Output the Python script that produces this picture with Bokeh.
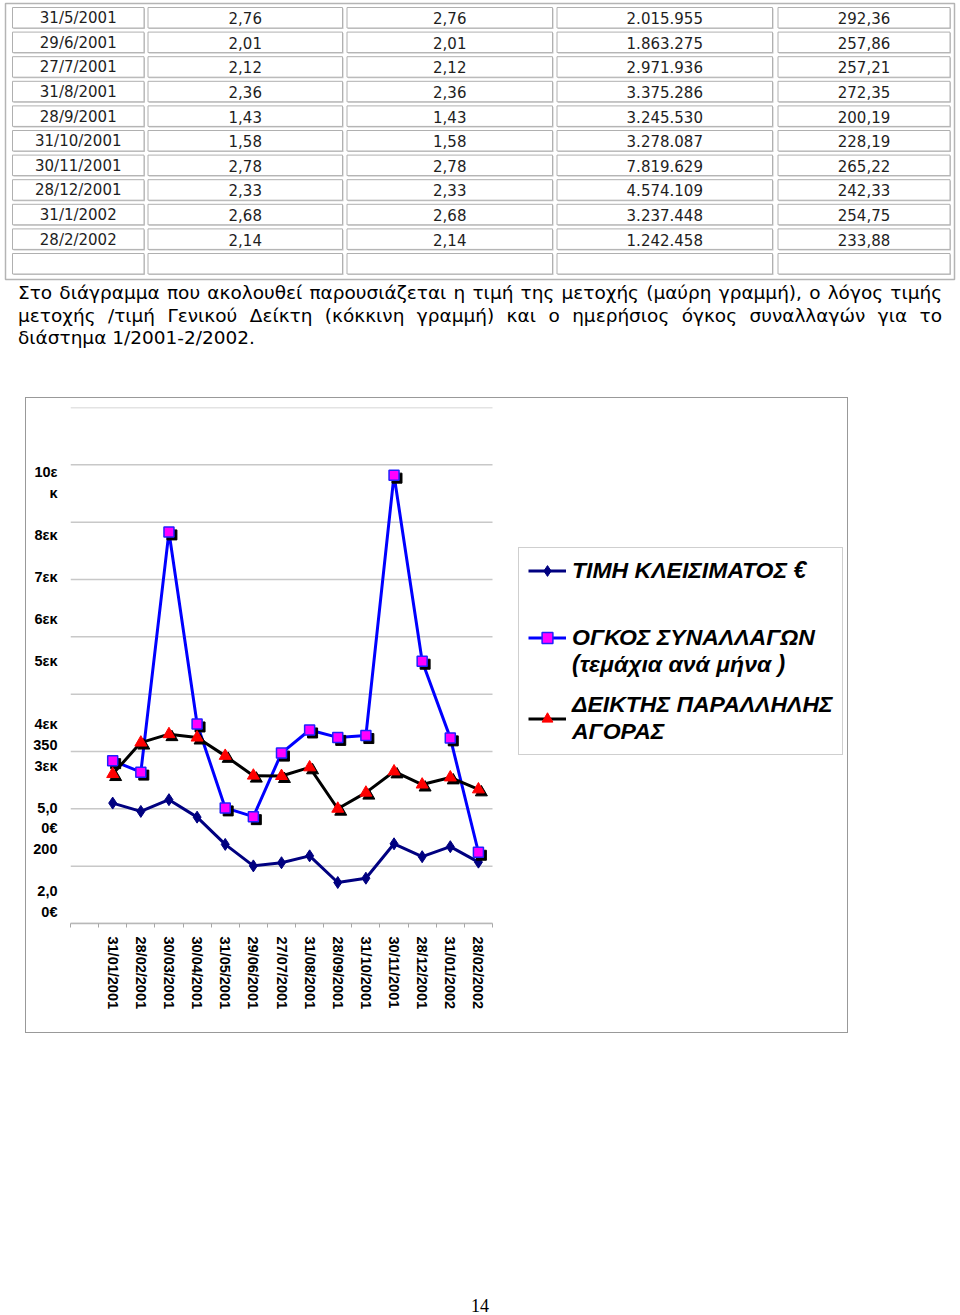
import math
from bokeh.plotting import figure
from bokeh.models import (Range1d, FixedTicker, LinearAxis, Legend, LegendItem,
                          Div, Spacer, ColumnDataSource)
from bokeh.layouts import column, row
from bokeh.transform import dodge
from bokeh.embed import file_html
from bokeh.resources import INLINE
from bokeh.core.properties import value

# ---------------- data: table (continuation from previous page) ----------------
tbl_dates = ["31/5/2001", "29/6/2001", "27/7/2001", "31/8/2001", "28/9/2001",
             "31/10/2001", "30/11/2001", "28/12/2001", "31/1/2002", "28/2/2002"]
tbl_price = ["2,76", "2,01", "2,12", "2,36", "1,43", "1,58", "2,78", "2,33", "2,68", "2,14"]
tbl_price_adj = ["2,76", "2,01", "2,12", "2,36", "1,43", "1,58", "2,78", "2,33", "2,68", "2,14"]
tbl_volume = ["2.015.955", "1.863.275", "2.971.936", "3.375.286", "3.245.530",
              "3.278.087", "7.819.629", "4.574.109", "3.237.448", "1.242.458"]
tbl_index = ["292,36", "257,86", "257,21", "272,35", "200,19",
             "228,19", "265,22", "242,33", "254,75", "233,88"]

para_lines = [
    "Στο διάγραμμα που ακολουθεί παρουσιάζεται η τιμή της μετοχής (μαύρη γραμμή), ο λόγος τιμής",
    "μετοχής /τιμή Γενικού Δείκτη (κόκκινη γραμμή) και ο ημερήσιος όγκος συναλλαγών για το",
    "διάστημα 1/2001-2/2002.",
]

# ---------------- data: chart ----------------
dates = ["31/01/2001", "28/02/2001", "30/03/2001", "30/04/2001", "31/05/2001", "29/06/2001",
         "27/07/2001", "31/08/2001", "28/09/2001", "31/10/2001", "30/11/2001", "28/12/2001",
         "31/01/2002", "28/02/2002"]
price = [4.20, 3.91, 4.32, 3.71, 2.76, 2.01, 2.12, 2.36, 1.43, 1.58, 2.78, 2.33, 2.68, 2.14]
volume = [2840000, 2640000, 6830000, 3480000, 2015955, 1863275, 2971936, 3375286, 3245530,
          3278087, 7819629, 4574109, 3237448, 1242458]
index_vals = [260.6, 315.5, 330.2, 324.3, 292.36, 257.86, 257.21, 272.35, 200.19, 228.19,
              265.22, 242.33, 254.75, 233.88]
volume_grid = [0, 1e6, 2e6, 3e6, 4e6, 5e6, 6e6, 7e6, 8e6, 9e6]
# left-hand axis texts, one per text line (blank = empty line)
y_tick_lines = ["10ε", "κ", "", "8εκ", "", "7εκ", "", "6εκ", "", "5εκ", "", "",
                "4εκ", "350", "3εκ", "", "5,0", "0€", "200", "", "2,0", "0€"]
legend_labels = ["ΤΙΜΗ ΚΛΕΙΣΙΜΑΤΟΣ €",
                 "\u00a0\nΟΓΚΟΣ ΣΥΝΑΛΛΑΓΩΝ\n(τεμάχια ανά μήνα )",
                 "ΔΕΙΚΤΗΣ ΠΑΡΑΛΛΗΛΗΣ\nΑΓΟΡΑΣ"]
page_number = "14"

# ================= table figure =================
TH = 282
tf = figure(width=960, height=TH, x_range=Range1d(0, 960), y_range=Range1d(TH, 0),
            output_backend="svg", toolbar_location=None, min_border=0,
            x_axis_location=None, y_axis_location=None)
tf.grid.visible = False
tf.outline_line_color = None

col_edges = [(12, 143.5), (147.5, 342), (346.5, 552), (556.5, 772), (777.5, 949.5)]
row_top0, row_pitch, row_h = 7.0, 24.6, 20.5
n_rows = len(tbl_dates) + 1

tf.quad(left=[5], right=[954], top=[3], bottom=[279], fill_color=None,
        line_color="#b4b4b4", line_width=1.5)
ql, qr, qt, qb = [], [], [], []
for r in range(n_rows):
    for (a, b) in col_edges:
        ql.append(a); qr.append(b)
        qt.append(row_top0 + r * row_pitch); qb.append(row_top0 + r * row_pitch + row_h)
tf.quad(left=[v + 1 for v in ql], right=[v + 1 for v in qr], top=[v + 1 for v in qt],
        bottom=[v + 1 for v in qb], fill_color="#c8c8c8", line_color=None)
tf.quad(left=ql, right=qr, top=qt, bottom=qb, fill_color="white",
        line_color="#b0b0b0", line_width=1)

cols = [tbl_dates, tbl_price, tbl_price_adj, tbl_volume, tbl_index]
tx, ty, tt = [], [], []
for ci, colvals in enumerate(cols):
    a, b = col_edges[ci]
    for r, s in enumerate(colvals):
        tx.append((a + b) / 2)
        ty.append(row_top0 + r * row_pitch + row_h / 2 + 0.5)
        tt.append(s)
tf.text(x=tx, y=ty, text=tt, text_align="center", text_baseline="middle",
        text_font=value("DejaVu Sans"), text_font_size="15px", text_color="#1e1e1e")

# ================= paragraph =================
line_divs = []
for i, ln in enumerate(para_lines):
    last = i == len(para_lines) - 1
    align = "text-align:left;" if last else "text-align:justify;text-align-last:justify;"
    line_divs.append('<div style="%swhite-space:nowrap;">%s</div>' % (align, ln))
para = Div(text='<div style="font-family:\'DejaVu Sans\';font-size:18.5px;line-height:22.5px;'
                'color:#000;width:924px;">' + "".join(line_divs) + "</div>",
           width=924, height=115, margin=(0, 0, 0, 0))

# ================= chart =================
xs = list(range(1, len(dates) + 1))
src = ColumnDataSource(dict(x=xs, price=price, vol=volume, idx=index_vals))

W, H = 823, 636
BL, BR, BT, BB = 45, 4, 10, 110
n_cat = len(dates) + 1                   # first category slot is empty
cat_px = 422.0 / n_cat                   # width of one category slot in pixels
frame_w = W - BL - BR
x_lo = -0.5
x_hi = x_lo + frame_w / cat_px           # frame extends right to hold the legend
VMAX = volume_grid[-1]

p = figure(width=W, height=H, x_range=Range1d(x_lo, x_hi), y_range=Range1d(0, VMAX),
           output_backend="svg", toolbar_location=None,
           x_axis_location=None, y_axis_location=None,
           min_border_left=BL, min_border_right=BR, min_border_top=BT, min_border_bottom=BB)
p.outline_line_color = None
p.grid.visible = False
p.border_fill_alpha = 0
p.extra_y_ranges = {"price": Range1d(0, 18), "idx": Range1d(0, 900),
                    "lines": Range1d(21.53, -3.07)}
p.styles = {"outline": "1px solid #999999", "outline-offset": "-1px"}

cat_end = x_lo + n_cat
p.segment(x0=[x_lo] * len(volume_grid), x1=[cat_end] * len(volume_grid),
          y0=volume_grid, y1=volume_grid, line_color="#c8c8c8", line_width=1.5)

xax = LinearAxis(ticker=FixedTicker(ticks=xs, minor_ticks=[x_lo + i for i in range(n_cat + 1)]),
                 bounds=(x_lo, cat_end),
                 major_label_overrides={i: d for i, d in zip(xs, dates)},
                 major_label_orientation=-math.pi / 2,
                 major_tick_out=0, major_tick_in=0, minor_tick_out=4, minor_tick_in=0,
                 minor_tick_line_color="#a8a8a8", axis_line_color="#b8b8b8", axis_line_width=1.5,
                 major_label_standoff=9, major_label_text_font="Liberation Sans",
                 major_label_text_font_style="bold", major_label_text_font_size="14.5px",
                 major_label_text_color="black")
p.add_layout(xax, "below")

ticks_idx = [i for i, t in enumerate(y_tick_lines) if t]
yax = LinearAxis(y_range_name="lines", ticker=FixedTicker(ticks=ticks_idx),
                 major_label_overrides={i: y_tick_lines[i] for i in ticks_idx},
                 axis_line_color=None, major_tick_line_color=None, minor_tick_line_color=None,
                 major_tick_out=0, major_tick_in=0, major_label_standoff=13,
                 major_label_text_font="Liberation Sans", major_label_text_font_style="bold",
                 major_label_text_font_size="14.5px", major_label_text_color="black")
p.add_layout(yax, "left")

SX = 0.105          # shadow offset (~3px) in category units
SV = 52000          # shadow offset in volume units
SI = 5.2            # shadow offset in index units

pl = p.line("x", "price", source=src, y_range_name="price", line_color="#000080", line_width=3)
pm = p.scatter("x", "price", source=src, y_range_name="price", marker="diamond", size=12,
               fill_color="#000080", line_color="#000080")

vl = p.line("x", "vol", source=src, line_color="#0000ff", line_width=3)
p.scatter(x=dodge("x", SX), y=dodge("vol", -SV), source=src, marker="square", size=10,
          fill_color="black", line_color="black")
vm = p.scatter("x", "vol", source=src, marker="square", size=10,
               fill_color="#ff00ff", line_color="#2020ff", line_width=1.5)

il = p.line("x", "idx", source=src, y_range_name="idx", line_color="black", line_width=3)
p.scatter(x=dodge("x", SX), y=dodge("idx", -SI), source=src, y_range_name="idx",
          marker="triangle", size=12, fill_color="black", line_color="black")
im = p.scatter("x", "idx", source=src, y_range_name="idx", marker="triangle", size=12,
               fill_color="#ff0000", line_color="#ff0000")

legend = Legend(items=[LegendItem(label=legend_labels[0], renderers=[pl, pm]),
                       LegendItem(label=legend_labels[1], renderers=[vl, vm]),
                       LegendItem(label=legend_labels[2], renderers=[il, im])],
                location=(448, 168), label_text_font="Liberation Sans",
                label_text_font_style="bold italic", label_text_font_size="23px",
                label_text_line_height=1.17, glyph_width=38, glyph_height=27, label_height=27,
                label_standoff=6, padding=9, spacing=13, border_line_color="#a0a0a0",
                border_line_width=1, background_fill_color="white", background_fill_alpha=1,
                label_text_color="black", margin=0)
p.add_layout(legend, "center")

page_div = Div(text='<div style="width:960px;text-align:center;font-family:\'Liberation Serif\';'
                    'font-size:18px;line-height:20px;color:#000;">%s</div>' % page_number,
               width=960, height=20, margin=(0, 0, 0, 0))

layout = column(tf,
                row(Spacer(width=18, height=115, margin=(0, 0, 0, 0)), para, spacing=0),
                row(Spacer(width=25, height=636, margin=(0, 0, 0, 0)), p, spacing=0),
                Spacer(width=960, height=263, margin=(0, 0, 0, 0)),
                page_div, spacing=0)

open("out.html", "w").write(file_html(layout, INLINE, title="chart"))
